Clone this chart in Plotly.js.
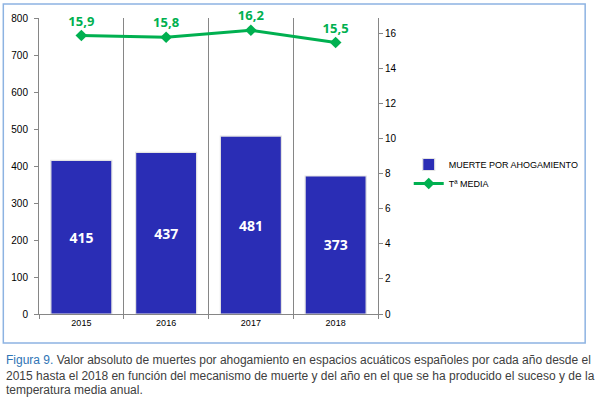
<!DOCTYPE html>
<html><head><meta charset="utf-8">
<script src="https://cdn.plot.ly/plotly-3.0.1.min.js"></script>
<style>html,body{margin:0;padding:0;background:#fff;}#chart{width:596px;height:397px;}</style>
</head><body><div id="chart"></div>
<script>
const years = ['2015', '2016', '2017', '2018'];
const deaths = [415, 437, 481, 373];
const tempMedia = [15.9, 15.8, 16.2, 15.5];
const captionLines = [
  '<span style="color:#2E74B5">Figura 9.</span> Valor absoluto de muertes por ahogamiento en espacios acuáticos españoles por cada año desde el',
  '2015 hasta el 2018 en función del mecanismo de muerte y del año en el que se ha producido el suceso y de la',
  'temperatura media anual.'
];

const L = 39, R = 381, T = 18, B = 314, W = 596, H = 397;
const px = x => (x - L) / (R - L);
const py = y => (B - y) / (B - T);

const traces = [
  {
    type: 'bar', x: years, y: deaths, name: 'MUERTE POR AHOGAMIENTO',
    marker: {color: '#2A2DB5', line: {color: '#E3E3E3', width: 1.2}},
    width: 0.72,
    texttemplate: '%{y}', textposition: 'inside', insidetextanchor: 'middle',
    textfont: {family: 'Open Sans', size: 14, color: '#FFFFFF', weight: 'bold'},
    hoverinfo: 'none'
  },
  {
    type: 'scatter', mode: 'lines+markers+text', x: years, y: tempMedia, yaxis: 'y2', name: 'Tª MEDIA',
    line: {color: '#00B050', width: 3},
    marker: {symbol: 'diamond', size: 9, color: '#00B050'},
    texttemplate: '%{y:.1f}', textposition: 'top center', cliponaxis: false,
    textfont: {family: 'Open Sans', size: 13, color: '#00B050', weight: 'bold'},
    hoverinfo: 'none'
  }
];

const captionTops = [351, 367, 381];
const annotations = captionLines.map((t, i) => ({
  xref: 'paper', yref: 'paper', x: px(4), y: py(captionTops[i]), xanchor: 'left', yanchor: 'top',
  text: t, showarrow: false, align: 'left',
  font: {family: 'Liberation Sans, Arial', size: 12, color: '#404040'}
}));

const layout = {
  width: W, height: H,
  margin: {l: L, r: W - R, t: T, b: H - B, pad: 0},
  paper_bgcolor: '#FFFFFF', plot_bgcolor: '#FFFFFF',
  separators: ',.',
  showlegend: true,
  bargap: 0.28,
  font: {family: 'Liberation Sans, Arial', size: 10, color: '#000000'},
  legend: {x: px(412), y: py(150), xanchor: 'left', yanchor: 'top',
           font: {family: 'Liberation Sans, Arial', size: 9, color: '#000000'},
           bgcolor: 'rgba(0,0,0,0)', tracegroupgap: 4, itemwidth: 30},
  xaxis: {type: 'category', tickson: 'boundaries', showgrid: true, gridcolor: '#868686', gridwidth: 1,
          showline: true, linecolor: '#868686', ticks: 'outside', ticklen: 4, tickcolor: '#868686',
          tickfont: {size: 9}, fixedrange: true},
  yaxis: {range: [0, 800], dtick: 100, showgrid: false, zeroline: false, showline: true, linecolor: '#868686',
          ticks: 'outside', ticklen: 4, tickcolor: '#868686', tickfont: {size: 10}, ticklabelstandoff: 4},
  yaxis2: {overlaying: 'y', side: 'right', range: [0, 16.9], dtick: 2, showgrid: false, zeroline: false,
           showline: true, linecolor: '#868686', ticks: 'outside', ticklen: 4, tickcolor: '#868686',
           tickfont: {size: 10}},
  shapes: [{type: 'rect', xref: 'paper', yref: 'paper', x0: px(3), x1: px(590), y0: py(343), y1: py(4),
            line: {color: '#8DB3E2', width: 1.5}, fillcolor: 'rgba(0,0,0,0)', layer: 'below'}],
  annotations: annotations
};

Plotly.newPlot('chart', traces, layout, {displayModeBar: false, staticPlot: true});
</script></body></html>
